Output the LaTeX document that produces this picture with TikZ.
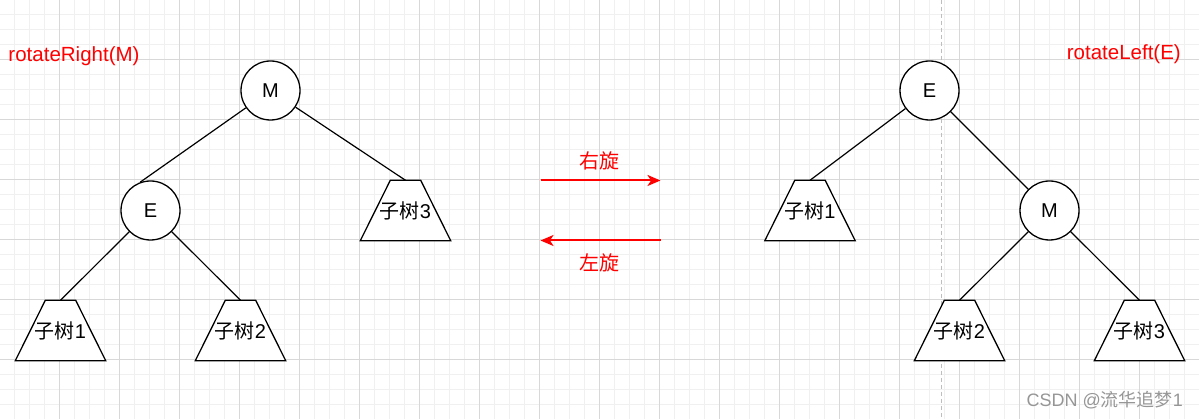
\documentclass[tikz,border=0pt]{standalone}
\usepackage{fontspec}
\setmainfont{Liberation Sans}
\newfontfamily\cjk{Noto Sans CJK SC}
\usetikzlibrary{arrows.meta}
\pgfdeclarelayer{gridlayer}
\pgfdeclarelayer{bglayer}
\pgfsetlayers{gridlayer,bglayer,main}
\begin{document}
\begin{tikzpicture}[x=1pt,y=-1pt,
  minorline/.style={draw={rgb,255:red,240;green,240;blue,240}, line width=0.8pt},
  majorline/.style={draw={rgb,255:red,216;green,216;blue,216}, line width=0.8pt},
  dashln/.style={draw={rgb,255:red,190;green,190;blue,190}, line width=1pt, dash pattern=on 4pt off 3pt},
  circ/.style={circle, draw, line width=1.3pt, minimum size=59pt, inner sep=0pt, fill=white, font=\fontsize{20}{24}\selectfont},
  trap/.style={minimum width=90pt, minimum height=60pt, inner sep=0pt, font=\fontsize{20}{24}\selectfont},
  trapshape/.style={draw, line width=1.3pt, fill=white, line join=miter},
  edge/.style={line width=1.2pt},
  redarr/.style={draw=red, line width=2pt, -{Stealth[length=13pt,width=11pt,inset=3.5pt]}},
  redlbl/.style={text=red, inner sep=0pt, font=\fontsize{20}{24}\selectfont\cjk},
  title/.style={text=red, inner sep=0pt, font=\fontsize{20.5}{24}\selectfont}
]
\useasboundingbox (0,0) rectangle (1199,419);
\begin{pgfonlayer}{gridlayer}
  \fill[white] (0,0) rectangle (1199,419);
  \foreach \i in {0,...,80} \draw[minorline] ({\i*15-0.5},0) -- ({\i*15-0.5},419);
  \foreach \i in {0,...,28} \draw[minorline] (0,{\i*15-0.5}) -- (1199,{\i*15-0.5});
  \foreach \i in {0,...,20} \draw[majorline] ({\i*60-0.5},0) -- ({\i*60-0.5},419);
  \foreach \i in {0,...,7} \draw[majorline] (0,{\i*60-0.5}) -- (1199,{\i*60-0.5});
  \draw[dashln] (941.5,0) -- (941.5,419);
\end{pgfonlayer}

% titles
\node[title, anchor=base west] (tl) at (8.3,61.5) {rotateRight(M)};
\node[title, anchor=base east] (tr) at (1181,59.5) {rotateLeft(E)};

% left tree
\node[circ] (M) at (270.5,90.5) {M};
\node[circ] (E) at (150.5,210.5) {E};
\node[trap] (a1) at (60.5,330.5) {{\cjk 子树}1};
\node[trap] (a2) at (240.5,330.5) {{\cjk 子树}2};
\node[trap] (a3) at (405.5,210.5) {{\cjk 子树}3};

% right tree
\node[circ] (E2) at (929.5,90.5) {E};
\node[circ] (M2) at (1049.5,210.5) {M};
\node[trap] (b1) at (810,210.5) {{\cjk 子树}1};
\node[trap] (b2) at (959.5,330.5) {{\cjk 子树}2};
\node[trap] (b3) at (1139.5,330.5) {{\cjk 子树}3};

\begin{pgfonlayer}{bglayer}
  \foreach \n in {a1,a2,a3,b1,b2,b3}
    \draw[trapshape] (\n.south west) -- ([xshift=30pt]\n.north west) -- ([xshift=-30pt]\n.north east) -- (\n.south east) -- cycle;
\end{pgfonlayer}

% edges
\draw[edge] (M) -- (E.110);
\draw[edge] (M) -- (a3.north);
\draw[edge] (E) -- (a1.north);
\draw[edge] (E) -- (a2.north);
\draw[edge] (E2) -- (b1.north);
\draw[edge] (E2) -- (M2);
\draw[edge] (M2) -- (b2.north);
\draw[edge] (M2) -- (b3.north);

% rotation arrows
\coordinate (r1s) at (540.5,180.5);
\coordinate (r1e) at (660.5,180.5);
\coordinate (r2s) at (660.5,240.5);
\coordinate (r2e) at (540.5,240.5);
\draw[redarr] (r1s) -- (r1e);
\draw[redarr] (r2s) -- (r2e);
\node[redlbl] (lr) at (599.5,160.5) {右旋};
\node[redlbl] (ll) at (599.5,263) {左旋};

% watermark
\node[anchor=base east, inner sep=0pt, text={rgb,255:red,150;green,150;blue,150}, font=\fontsize{18}{22}\selectfont] (wm) at (1183,406.5) {CSDN @{\cjk 流华追梦}1};
\end{tikzpicture}
\end{document}
